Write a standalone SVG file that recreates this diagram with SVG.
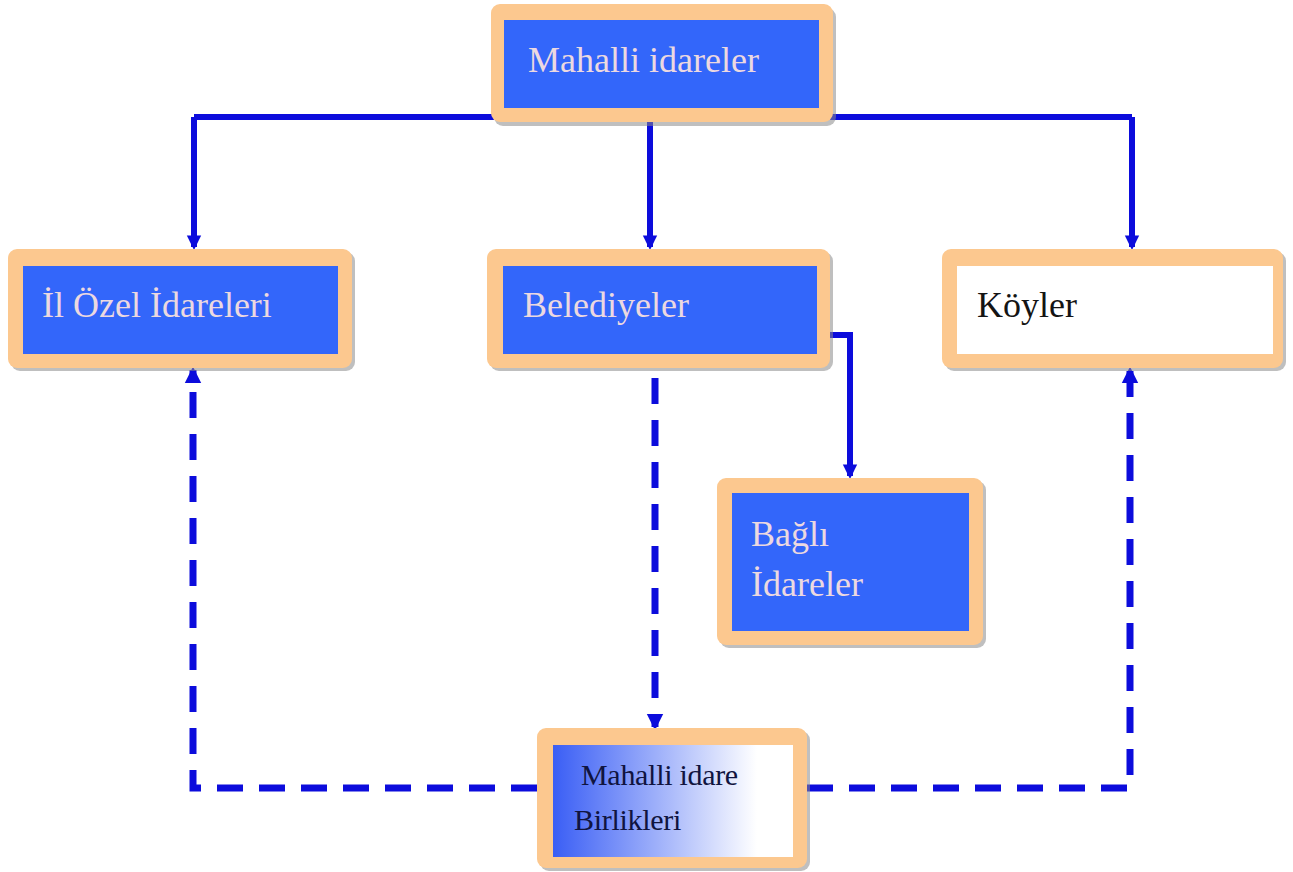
<svg xmlns="http://www.w3.org/2000/svg" width="1293" height="872" viewBox="0 0 1293 872">
<style>
.frame{fill:#fcc88f;}
.shadow{fill:#8a8a8a;opacity:0.55;}
.blue{fill:#3366fa;}
.lt{font-family:"Liberation Serif","Times New Roman",serif;font-size:36px;fill:#ecd9e0;}
.dk{font-family:"Liberation Serif","Times New Roman",serif;font-size:36px;fill:#141414;}
.nv{font-family:"Liberation Serif","Times New Roman",serif;font-size:30px;fill:#101440;letter-spacing:-0.3px;}
.solid{fill:none;stroke:#0c0cdc;stroke-width:6;}
.dash{fill:none;stroke:#0c0cdc;stroke-width:7;stroke-dasharray:26 16;}
</style>
<defs>
<marker id="ah" viewBox="0 0 10 10" refX="8" refY="5" markerWidth="2.4" markerHeight="2.8" orient="auto" markerUnits="strokeWidth">
<path d="M0,0 L10,5 L0,10 Z" fill="#0c0cdc"/>
</marker>
<linearGradient id="grd" x1="0" y1="0" x2="1" y2="0">
<stop offset="0" stop-color="#3a5ef5"/>
<stop offset="0.85" stop-color="#ffffff"/>
<stop offset="1" stop-color="#ffffff"/>
</linearGradient>
</defs>
<rect width="1293" height="872" fill="#ffffff"/>
<g id="connectors">
<path class="solid" d="M194,117 H1132"/>
<path class="solid" d="M194,117 V247" marker-end="url(#ah)"/>
<path class="solid" d="M650,122 V247" marker-end="url(#ah)"/>
<path class="solid" d="M1132,117 V247" marker-end="url(#ah)"/>
<path class="solid" d="M828,335 H850 V476" marker-end="url(#ah)"/>
<path class="dash" d="M655,378 V727" marker-end="url(#ah)"/>
<path class="dash" d="M537,788 H193 V370" marker-end="url(#ah)"/>
<path class="dash" d="M807,788 H1130 V370" marker-end="url(#ah)"/>
</g>
<g id="node-mahalli-idareler">
<rect class="shadow" x="494" y="8" width="342" height="118" rx="9"/>
<rect class="frame" x="491" y="4" width="342" height="118" rx="9"/>
<rect class="blue" x="504" y="20" width="315" height="88"/>
<text class="lt" x="528" y="72">Mahalli idareler</text>
</g>
<g id="node-il-ozel-idareleri">
<rect class="shadow" x="11" y="252" width="344" height="119" rx="9"/>
<rect class="frame" x="8" y="249" width="344" height="119" rx="9"/>
<rect class="blue" x="23" y="266" width="315" height="88"/>
<text class="lt" x="42" y="317">İl Özel İdareleri</text>
</g>
<g id="node-belediyeler">
<rect class="shadow" x="490" y="252" width="343" height="119" rx="9"/>
<rect class="frame" x="487" y="249" width="343" height="119" rx="9"/>
<rect class="blue" x="503" y="266" width="314" height="88"/>
<text class="lt" x="523" y="317">Belediyeler</text>
</g>
<g id="node-koyler">
<rect class="shadow" x="945" y="252" width="341" height="119" rx="9"/>
<rect class="frame" x="942" y="249" width="341" height="119" rx="9"/>
<rect x="957" y="266" width="316" height="88" fill="#ffffff"/>
<text class="dk" x="977" y="317">Köyler</text>
</g>
<g id="node-bagli-idareler">
<rect class="shadow" x="720" y="481" width="266" height="167" rx="9"/>
<rect class="frame" x="717" y="478" width="266" height="167" rx="9"/>
<rect class="blue" x="732" y="493" width="237" height="138"/>
<text class="lt" x="751" y="546">Bağlı</text>
<text class="lt" x="751" y="596">İdareler</text>
</g>
<g id="node-mahalli-idare-birlikleri">
<rect class="shadow" x="540" y="731" width="270" height="140" rx="9"/>
<rect class="frame" x="537" y="728" width="270" height="140" rx="9"/>
<rect x="553" y="745" width="240" height="112" fill="url(#grd)"/>
<text class="nv" x="581" y="785">Mahalli idare</text>
<text class="nv" x="574" y="830">Birlikleri</text>
</g>
</svg>
